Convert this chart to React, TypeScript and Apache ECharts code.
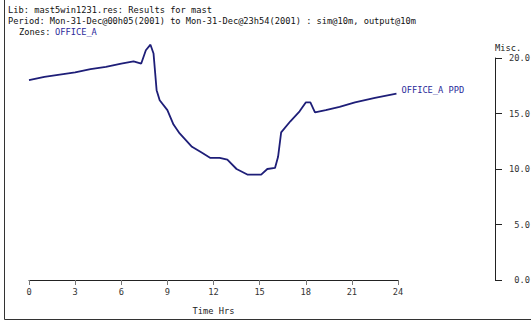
import React, { useEffect, useRef } from "react";
import * as echarts from "echarts";

const times = [0, 1, 2, 3, 4, 5, 6, 6.8, 7.3, 7.6, 7.9, 8.1, 8.3, 8.5, 9, 9.4, 9.8, 10.6, 11.2, 11.8, 12.4, 12.9, 13.5, 14.2, 15.1, 15.5, 16, 16.2, 16.4, 17, 17.6, 18, 18.3, 18.6, 19.3, 20.2, 21.2, 22.5, 23.9];
const ppdValues = [18.0, 18.3, 18.5, 18.7, 19.0, 19.2, 19.5, 19.7, 19.5, 20.7, 21.2, 20.4, 17.1, 16.2, 15.3, 14.0, 13.2, 12.0, 11.5, 11.0, 11.0, 10.85, 10.0, 9.5, 9.5, 10.0, 10.1, 11.1, 13.3, 14.3, 15.2, 16.0, 16.0, 15.1, 15.3, 15.6, 16.0, 16.4, 16.8];
const xTicks = [0, 3, 6, 9, 12, 15, 18, 21, 24];
const yTicks = [0, 5, 10, 15, 20];

const headerLines = [
  "Lib: mast5win1231.res: Results for mast",
  "Period: Mon-31-Dec@00h05(2001) to Mon-31-Dec@23h54(2001) : sim@10m, output@10m",
];
const zoneLabel = "Zones: ";
const zoneName = "OFFICE_A";
const seriesName = "OFFICE_A PPD";

const MONO = "'DejaVu Sans Mono', 'Liberation Mono', monospace";

export default function App() {
  const ref = useRef<HTMLDivElement>(null);
  useEffect(() => {
    const chart = echarts.init(ref.current!, null, { renderer: "svg" });
    const data = times.map((t, i) => [t, ppdValues[i]]);
    chart.setOption({
      animation: false,
      backgroundColor: "#ffffff",
      grid: { left: 29, right: 133, top: 58, bottom: 42, containLabel: false, outerBoundsMode: "none" },
      xAxis: {
        type: "value",
        min: xTicks[0],
        max: xTicks[xTicks.length - 1],
        interval: 3,
        name: "Time Hrs",
        nameLocation: "middle",
        nameGap: 26,
        nameTextStyle: { fontFamily: MONO, fontSize: 8.7, color: "#222" },
        axisLine: { show: true, onZero: false, lineStyle: { color: "#222", width: 1 } },
        axisTick: { show: true, length: 5, lineStyle: { color: "#777" } },
        axisLabel: { fontFamily: MONO, fontSize: 8.7, color: "#333", margin: 7 },
        splitLine: { show: false },
      },
      yAxis: {
        type: "value",
        position: "right",
        offset: 97,
        min: yTicks[0],
        max: yTicks[yTicks.length - 1],
        interval: 5,
        name: "Misc.",
        nameLocation: "end",
        nameGap: 6,
        nameTextStyle: { fontFamily: MONO, fontSize: 8.7, color: "#222", align: "left", padding: [0, 0, 0, 0] },
        axisLine: { show: true, onZero: false, lineStyle: { color: "#222", width: 1 } },
        axisTick: { show: true, inside: false, length: 7, lineStyle: { color: "#222" } },
        axisLabel: {
          fontFamily: MONO,
          fontSize: 8.7,
          color: "#333",
          align: "right",
          margin: 35,
          formatter: (v: number) => v.toFixed(1),
        },
        splitLine: { show: false },
      },
      series: [
        {
          type: "line",
          name: seriesName,
          data,
          clip: false,
          showSymbol: false,
          symbol: "none",
          lineStyle: { color: "#1e1e78", width: 1.8 },
          endLabel: {
            show: true,
            formatter: seriesName,
            fontFamily: MONO,
            fontSize: 8.7,
            color: "#2a2a9a",
            offset: [-3, -4],
          },
        },
      ],
      graphic: [
        {
          type: "line",
          shape: { x1: 4.5, y1: 0, x2: 4.5, y2: 319.5 },
          style: { stroke: "#333", lineWidth: 1 },
        },
        {
          type: "line",
          shape: { x1: 4.5, y1: 319.5, x2: 531, y2: 319.5 },
          style: { stroke: "#333", lineWidth: 1 },
        },
        {
          type: "text",
          left: 8,
          top: 5,
          style: { text: headerLines[0], font: `8.7px ${MONO}`, fill: "#111" },
        },
        {
          type: "text",
          left: 8,
          top: 16,
          style: { text: headerLines[1], font: `8.7px ${MONO}`, fill: "#111" },
        },
        {
          type: "text",
          left: 19,
          top: 27,
          style: { text: zoneLabel, font: `8.7px ${MONO}`, fill: "#111" },
        },
        {
          type: "text",
          left: 55,
          top: 27,
          style: { text: zoneName, font: `8.7px ${MONO}`, fill: "#2a2a9a" },
        },
      ],
    });
    return () => chart.dispose();
  }, []);
  return (
    <div
      ref={ref}
      style={{ position: "absolute", left: 0, top: 0, width: 531, height: 322 }}
    />
  );
}
